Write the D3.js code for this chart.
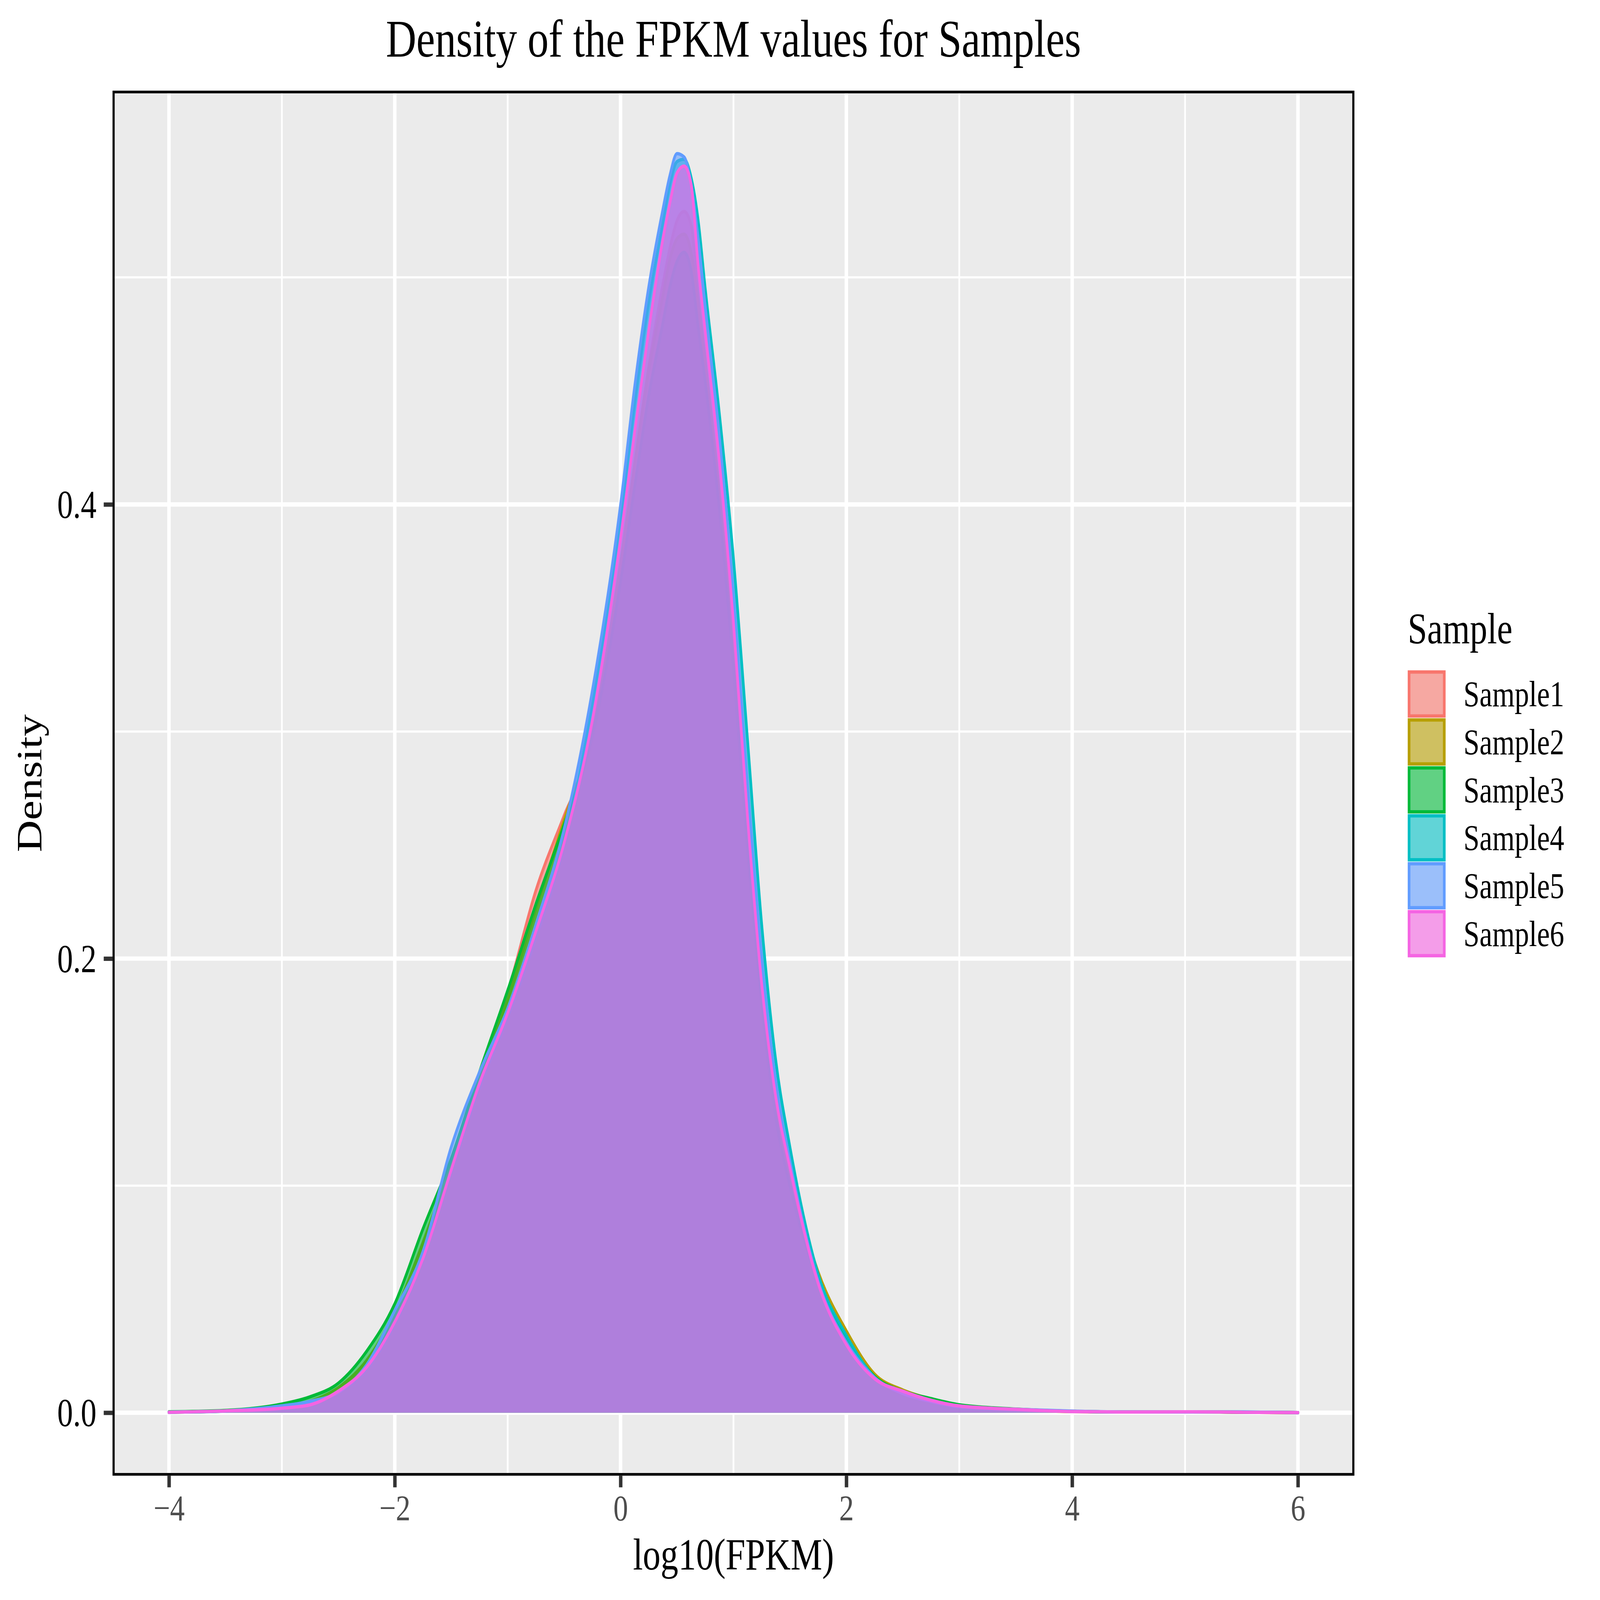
<!DOCTYPE html>
<html>
<head>
<meta charset="utf-8">
<script src="https://cdn.jsdelivr.net/npm/d3@7"></script>
<style>
  html, body { margin: 0; padding: 0; background: #ffffff; overflow: hidden; }
  svg { display: block; width: 100vw; height: 100vh; font-family: "Liberation Serif", "Times New Roman", serif; }
</style>
</head>
<body>
<svg id="chart" viewBox="0 0 6000 4800" preserveAspectRatio="none"></svg>
<script>
// ---------------- data ----------------
const xGrid = [-4, -3.5, -3, -2.75, -2.5, -2.25, -2, -1.75, -1.5, -1.25, -1, -0.75, -0.5, -0.25,
  0, 0.125, 0.25, 0.375, 0.4375, 0.5, 0.5625, 0.625, 0.6875, 0.75, 0.875, 1, 1.125, 1.25, 1.375, 1.5, 1.75,
  2, 2.25, 2.5, 2.75, 3, 3.5, 4, 4.5, 5, 5.5, 6];

const sample1 = [0.0002, 0.0008, 0.0025, 0.0045, 0.0105, 0.021, 0.042, 0.073, 0.108, 0.149, 0.185, 0.230, 0.263, 0.295,
  0.372, 0.418, 0.461, 0.497, 0.513, 0.525, 0.529, 0.523, 0.492, 0.464, 0.405, 0.335, 0.252, 0.183, 0.134, 0.104, 0.058,
  0.033, 0.016, 0.0095, 0.006, 0.003, 0.0015, 0.0006, 0.0003, 0.0004, 0.0002, 0.00005];
const sample2 = [0.0002, 0.0008, 0.0028, 0.005, 0.011, 0.023, 0.044, 0.075, 0.110, 0.147, 0.182, 0.222, 0.261, 0.300,
  0.374, 0.418, 0.459, 0.492, 0.508, 0.517, 0.519, 0.511, 0.488, 0.461, 0.405, 0.337, 0.256, 0.188, 0.137, 0.106, 0.062,
  0.036, 0.017, 0.010, 0.006, 0.0032, 0.0014, 0.0005, 0.0003, 0.0004, 0.0002, 0.00005];
const sample3 = [0.0004, 0.001, 0.0038, 0.007, 0.013, 0.027, 0.048, 0.081, 0.112, 0.150, 0.186, 0.224, 0.259, 0.298,
  0.366, 0.408, 0.448, 0.480, 0.496, 0.507, 0.511, 0.503, 0.478, 0.454, 0.398, 0.328, 0.248, 0.180, 0.130, 0.100, 0.058,
  0.033, 0.016, 0.0095, 0.0062, 0.0035, 0.0016, 0.0006, 0.0003, 0.0003, 0.0002, 0.00005];
const sample4 = [0.0002, 0.0007, 0.0025, 0.004, 0.009, 0.019, 0.039, 0.068, 0.106, 0.143, 0.174, 0.209, 0.250, 0.312,
  0.393, 0.444, 0.489, 0.524, 0.541, 0.551, 0.552, 0.544, 0.525, 0.495, 0.440, 0.376, 0.296, 0.215, 0.155, 0.117, 0.061,
  0.034, 0.0155, 0.0085, 0.005, 0.0026, 0.0014, 0.0006, 0.0003, 0.0003, 0.0003, 0.00005];
const sample5 = [0.0002, 0.0008, 0.003, 0.005, 0.009, 0.021, 0.045, 0.071, 0.117, 0.150, 0.178, 0.215, 0.257, 0.318,
  0.400, 0.452, 0.496, 0.530, 0.545, 0.5545, 0.553, 0.541, 0.517, 0.487, 0.430, 0.361, 0.277, 0.201, 0.146, 0.111, 0.058,
  0.031, 0.0155, 0.0085, 0.005, 0.0027, 0.0015, 0.0007, 0.0003, 0.0003, 0.0003, 0.00005];
const sample6 = [0.0002, 0.0008, 0.002, 0.0035, 0.0095, 0.020, 0.040, 0.068, 0.107, 0.145, 0.176, 0.212, 0.251, 0.305,
  0.385, 0.432, 0.477, 0.517, 0.533, 0.546, 0.549, 0.541, 0.505, 0.476, 0.419, 0.348, 0.262, 0.189, 0.139, 0.108, 0.057,
  0.030, 0.015, 0.0095, 0.0055, 0.003, 0.0015, 0.0005, 0.0003, 0.0004, 0.0002, 0.00005];

const sampleNames = ["Sample1", "Sample2", "Sample3", "Sample4", "Sample5", "Sample6"];
const xTicks = [-4, -2, 0, 2, 4, 6];
const xMinor = [-3, -1, 1, 3, 5];
const yTicks = [0, 0.2, 0.4];
const yMinor = [0.1, 0.3, 0.5];

const titleText = "Density of the FPKM values for Samples";
const xLabel = "log10(FPKM)";
const yLabel = "Density";
const legendTitle = "Sample";

//==================== BUILD SERIES ====================
const sampleValues = [sample1, sample2, sample3, sample4, sample5, sample6];
const series = sampleNames.map(function(name, i) {
  return {id: name, values: xGrid.map(function(x, j) { return {x: x, y: sampleValues[i][j]}; })};
});

//==================== SET UP SVG ====================
const svg = d3.select("#chart"),
  serif = '"Liberation Serif", "Times New Roman", serif',
  panel = {left: 422, right: 5079, top: 272, bottom: 4427},
  color = d3.scaleOrdinal()
    .domain(sampleNames)
    .range(["#F8766D", "#B79F00", "#00BA38", "#00BFC4", "#619CFF", "#F564E3"]),
  fillAlpha = 0.6;

svg.append("rect").attr("width", 6000).attr("height", 4800).attr("fill", "#ffffff");

// ggplot style 5% expansion on both axes
const xExt = d3.extent(xGrid),
  xPad = (xExt[1] - xExt[0]) * 0.05,
  yMax = d3.max(sampleValues, function(s) { return d3.max(s); });

const x = d3.scaleLinear().domain([xExt[0] - xPad, xExt[1] + xPad]).range([panel.left, panel.right]),
  y = d3.scaleLinear().domain([-0.05 * yMax, 1.05 * yMax]).range([panel.bottom, panel.top]);

//==================== PANEL + GRID ====================
svg.append("rect")
  .attr("x", panel.left).attr("y", panel.top)
  .attr("width", panel.right - panel.left).attr("height", panel.bottom - panel.top)
  .attr("fill", "#EBEBEB");

const grid = svg.append("g").attr("stroke", "#ffffff");
grid.selectAll(".vminor").data(xMinor).enter().append("line")
  .attr("x1", d => x(d)).attr("x2", d => x(d))
  .attr("y1", panel.top).attr("y2", panel.bottom)
  .attr("stroke-width", 6.5);
grid.selectAll(".hminor").data(yMinor).enter().append("line")
  .attr("y1", d => y(d)).attr("y2", d => y(d))
  .attr("x1", panel.left).attr("x2", panel.right)
  .attr("stroke-width", 6.5);
grid.selectAll(".vmajor").data(xTicks).enter().append("line")
  .attr("x1", d => x(d)).attr("x2", d => x(d))
  .attr("y1", panel.top).attr("y2", panel.bottom)
  .attr("stroke-width", 13);
grid.selectAll(".hmajor").data(yTicks).enter().append("line")
  .attr("y1", d => y(d)).attr("y2", d => y(d))
  .attr("x1", panel.left).attr("x2", panel.right)
  .attr("stroke-width", 13);

//==================== DENSITIES ====================
const area = d3.area()
  .curve(d3.curveMonotoneX)
  .x(d => x(d.x))
  .y0(y(0))
  .y1(d => y(d.y));

const line = d3.line()
  .curve(d3.curveMonotoneX)
  .x(d => x(d.x))
  .y(d => y(d.y));

const aspect = svg.selectAll(".sample")
  .data(series)
  .enter().append("g")
    .attr("class", "sample");

aspect.append("path")
  .attr("d", d => area(d.values))
  .attr("fill", d => color(d.id))
  .attr("fill-opacity", fillAlpha);

aspect.append("path")
  .attr("d", d => line(d.values))
  .attr("fill", "none")
  .attr("stroke", d => color(d.id))
  .attr("stroke-width", 10)
  .attr("stroke-linecap", "round")
  .attr("stroke-linejoin", "round");

// panel border
svg.append("rect")
  .attr("x", panel.left + 4).attr("y", panel.top + 4)
  .attr("width", panel.right - panel.left - 8).attr("height", panel.bottom - panel.top - 8)
  .attr("fill", "none")
  .attr("stroke", "#000000")
  .attr("stroke-width", 8);

//==================== AXES ====================
const gx = svg.append("g")
  .attr("transform", "translate(0," + panel.bottom + ")")
  .call(d3.axisBottom(x).tickValues(xTicks).tickSize(35).tickPadding(21));
gx.select(".domain").remove();
gx.attr("font-family", serif).attr("font-size", 110);
gx.selectAll(".tick line").attr("stroke", "#333333").attr("stroke-width", 13);
gx.selectAll(".tick text").attr("fill", "#4D4D4D");

const gy = svg.append("g")
  .attr("transform", "translate(" + panel.left + ",0)")
  .call(d3.axisLeft(y).tickValues(yTicks).tickFormat(d3.format(".1f")).tickSize(33).tickPadding(27));
gy.select(".domain").remove();
gy.attr("font-family", serif).attr("font-size", 118);
gy.selectAll(".tick line").attr("stroke", "#333333").attr("stroke-width", 13);
gy.selectAll(".tick text").attr("fill", "#000000").attr("dy", "0.34em");

//==================== TITLES ====================
const midX = (panel.left + panel.right) / 2,
  midY = (panel.top + panel.bottom) / 2;

svg.append("text")
  .attr("x", midX).attr("y", 170)
  .attr("text-anchor", "middle")
  .attr("font-size", 158)
  .text(titleText);

svg.append("text")
  .attr("x", midX).attr("y", 4709)
  .attr("text-anchor", "middle")
  .attr("font-size", 133)
  .text(xLabel);

svg.append("text")
  .attr("transform", "translate(155," + midY + ") rotate(-90)")
  .attr("text-anchor", "middle")
  .attr("font-size", 133)
  .text(yLabel);

//==================== LEGEND ====================
const legend = svg.append("g").attr("transform", "translate(5279,2011)"),
  keySize = 142,
  keyStep = 143.8;

legend.append("text")
  .attr("x", 0).attr("y", -81)
  .attr("font-size", 131)
  .text(legendTitle);

const item = legend.selectAll(".legendItem")
  .data(sampleNames)
  .enter().append("g")
    .attr("class", "legendItem")
    .attr("transform", (d, i) => "translate(0," + i * keyStep + ")");

item.append("rect")
  .attr("width", keySize).attr("height", keySize)
  .attr("fill", "#F2F2F2");

item.append("rect")
  .attr("x", 5).attr("y", 5)
  .attr("width", keySize - 10).attr("height", keySize - 10)
  .attr("fill", d => color(d))
  .attr("fill-opacity", fillAlpha)
  .attr("stroke", d => color(d))
  .attr("stroke-width", 10);

item.append("text")
  .attr("x", 209).attr("y", keySize / 2 + 37)
  .attr("font-size", 108)
  .text(d => d);
</script>
</body>
</html>
